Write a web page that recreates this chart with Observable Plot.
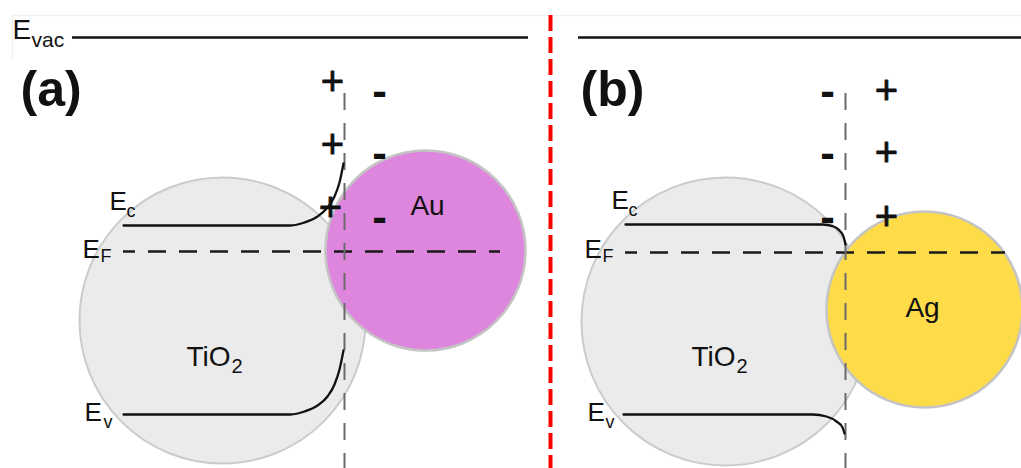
<!DOCTYPE html>
<html>
<head>
<meta charset="utf-8">
<script src="https://cdn.jsdelivr.net/npm/d3@7"></script>
<script src="https://cdn.jsdelivr.net/npm/@observablehq/plot@0.6"></script>
<style>
  html, body { margin: 0; padding: 0; background: #fff; }
  #chart svg { display: block; }
</style>
</head>
<body>
<div id="chart"></div>
<script>
// ---- Diagram data (pixel-space coordinates) ----
// Particles
const particleName = ["TiO2 (a)", "Au", "TiO2 (b)", "Ag"];
const particleX = [222, 425, 725, 924];
const particleY = [320, 250, 321, 309];
const particleR = [143, 100, 144, 98];

// Energy levels (flat lines)
const evacLevels = [
  {panel: "a", x1: 72, x2: 528, y: 37},
  {panel: "b", x1: 578, x2: 1021, y: 37}
];
const fermiLevels = [
  {panel: "a", x1: 123, x2: 500, y: 251},
  {panel: "b", x1: 625, x2: 1005, y: 252}
];
// Interfaces (vertical dashed)
const interfaceX = [344, 845];
const interfaceTop = 93;

// Band edges (bending near interface)
const ecA = [[123,225],[290,225],[304,222],[317,216],[327,207],[334,196],[339,182],[343,163]];
const evA = [[123,414],[290,414],[304,411],[317,405],[327,396],[334,384],[339,369],[343,350]];
const ecB = [[625,224],[822,224],[833,226],[839,230],[843,236],[845,244]];
const evB = [[623,414],[812,414],[826,416],[836,421],[842,427],[844,433]];

// Space charges
const chargeSymbol = ["+","+","+","-","-","-","-","-","-","+","+","+"];
const chargeX = [332,332,330,379,379,379, 827,827,827,886,886,886];
const chargeY = [ 82,145,208, 91,153,217,  91,153,217, 91,153,217];

// Labels: main text and subscript
const labelText = ["E", "E", "E", "E", "E", "E", "E", "TiO", "TiO"];
const labelSub  = ["vac", "c", "F", "v", "c", "F", "v", "2", "2"];
const labelX    = [12, 109, 82, 84, 611, 584, 587, 186, 691];
const labelY    = [38, 209, 257, 420, 208, 257, 420, 365, 365];
const subX      = [31, 126, 100, 103, 628, 602, 605, 231, 736];
const subY      = [46, 216, 261, 427, 215, 261, 427, 372, 372];

const panelTag = ["(a)", "(b)"];
const panelTagX = [20, 580];
const panelTagY = [105, 105];

const metalName = ["Au", "Ag"];
const metalX = [427, 922];
const metalY = [214, 316];

// ---- build ----
const particles = particleName.map((n, i) => ({name: n, x: particleX[i], y: particleY[i], r: particleR[i]}));
const fills = {"TiO2 (a)": "#ebebeb", "TiO2 (b)": "#ebebeb", "Au": "#de86de", "Ag": "#fedb48"};
const toPts = (arr, id) => arr.map(([x, y]) => ({x, y, id}));
const bands = [...toPts(ecA, "ecA"), ...toPts(evA, "evA"), ...toPts(ecB, "ecB"), ...toPts(evB, "evB")];
const charges = chargeSymbol.map((s, i) => ({s, x: chargeX[i], y: chargeY[i]}));
const labels = labelText.map((t, i) => ({t, sub: labelSub[i], x: labelX[i], y: labelY[i], sx: subX[i], sy: subY[i]}));
const tags = panelTag.map((t, i) => ({t, x: panelTagX[i], y: panelTagY[i]}));
const metals = metalName.map((t, i) => ({t, x: metalX[i], y: metalY[i]}));

const font = "'Liberation Sans', Arial, Helvetica, sans-serif";

const chart = Plot.plot({
  width: 1021,
  height: 468,
  margin: 0,
  x: {domain: [0, 1021], range: [0, 1021], axis: null},
  y: {domain: [0, 468], range: [0, 468], axis: null},
  r: {type: "identity"},
  style: {background: "#fff", fontFamily: font},
  marks: [
    // faint frame
    Plot.ruleY([15], {x1: 12, x2: 1021, stroke: "#f1f1f1", strokeWidth: 1.5}),
    Plot.ruleX([12], {y1: 15, y2: 60, stroke: "#f1f1f1", strokeWidth: 1.5}),
    // particles (TiO2 under, metal on top)
    Plot.dot(particles.filter(d => d.name.startsWith("TiO2")), {x: "x", y: "y", r: "r", fill: d => fills[d.name], stroke: "#cbcbcb", strokeWidth: 2}),
    Plot.dot(particles.filter(d => !d.name.startsWith("TiO2")), {x: "x", y: "y", r: "r", fill: d => fills[d.name], stroke: "#c4c4c4", strokeWidth: 2.5}),
    // vacuum level
    Plot.ruleY(evacLevels, {x1: "x1", x2: "x2", y: "y", stroke: "#111", strokeWidth: 2.5}),
    // fermi level
    Plot.ruleY(fermiLevels, {x1: "x1", x2: "x2", y: "y", stroke: "#1a1a1a", strokeWidth: 2.5, strokeDasharray: "18,13", strokeDashoffset: 6}),
    // interfaces
    Plot.ruleX(interfaceX, {y1: interfaceTop, y2: 468, stroke: "#6a6a6a", strokeWidth: 2, strokeDasharray: "17,13"}),
    // band edges
    Plot.line(bands, {x: "x", y: "y", z: "id", curve: "monotone-x", stroke: "#111", strokeWidth: 2.3}),
    // red separator
    Plot.ruleX([550], {y1: 15, y2: 468, stroke: "#ff0000", strokeWidth: 4, strokeDasharray: "16,6"}),
    // charges
    Plot.text(charges.filter(d => d.s === "+"), {x: "x", y: "y", text: "s", fontSize: 40, fill: "#111", stroke: "#111", strokeWidth: 0.8, textAnchor: "middle", lineAnchor: "middle"}),
    Plot.text(charges.filter(d => d.s === "-"), {x: "x", y: "y", text: "s", fontSize: 44, fontWeight: "bold", fill: "#111", textAnchor: "middle", lineAnchor: "middle"}),
    // labels
    Plot.text(labels, {x: "x", y: "y", text: "t", fontSize: d => d.t === "TiO" ? 28 : (d.sub === "vac" ? 28 : 26), textAnchor: "start", lineAnchor: "bottom", fill: "#111"}),
    Plot.text(labels, {x: "sx", y: "sy", text: "sub", fontSize: d => d.sub === "vac" ? 21 : (d.sub === "2" ? 20 : 18), textAnchor: "start", lineAnchor: "bottom", fill: "#111"}),
    Plot.text(metals, {x: "x", y: "y", text: "t", fontSize: 28, textAnchor: "middle", lineAnchor: "bottom", fill: "#111"}),
    Plot.text(tags, {x: "x", y: "y", text: "t", fontSize: 50, fontWeight: "bold", textAnchor: "start", lineAnchor: "bottom", fill: "#111"})
  ]
});
document.getElementById("chart").appendChild(chart);
</script>
</body>
</html>
